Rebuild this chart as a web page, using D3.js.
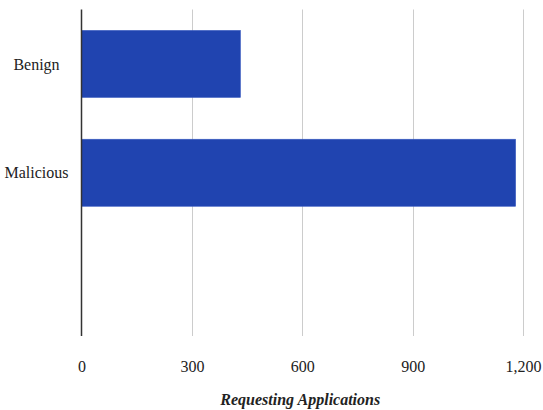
<!DOCTYPE html>
<html><head><meta charset="utf-8">
<script src="https://cdn.jsdelivr.net/npm/d3@7"></script>
<style>body{margin:0;background:#fff}svg{display:block}
svg text{font-family:"Liberation Serif","DejaVu Serif",serif;}</style>
</head><body>
<svg id="c" width="543" height="410"></svg>
<script>
const categories = ["Benign", "Malicious"];
const values = [432, 1180];
const xTicks = [0, 300, 600, 900, 1200];
const xTitle = "Requesting Applications";

(function () {
const svg = d3.select("#c");
const FONT = '"Liberation Serif", "DejaVu Serif", serif';
const mLeft = 81.5, mRight = 523, mTop = 9.5, mBottom = 336;
const x = d3.scaleLinear().domain([0, 1200]).range([mLeft, mRight]);
// three slots: chart leaves an empty row below the two categories
const y = d3.scaleBand().domain(categories.concat(["__empty"])).range([mTop, mBottom]).paddingInner(0.384).paddingOuter(0.192);

// gridlines
svg.append("g").selectAll("line").data(xTicks.filter(d => d !== 0)).join("line")
  .attr("x1", d => Math.round(x(d)) + 0.5).attr("x2", d => Math.round(x(d)) + 0.5)
  .attr("y1", mTop).attr("y2", mBottom)
  .attr("stroke", "#cccccc").attr("stroke-width", 1);

// bars
svg.append("g").selectAll("rect").data(categories).join("rect")
  .attr("x", x(0)).attr("y", d => y(d))
  .attr("width", (d, i) => x(values[i]) - x(0))
  .attr("height", y.bandwidth())
  .attr("fill", "#2044b0").attr("stroke", "#3a5cc0").attr("stroke-width", 0.6);

// baseline
svg.append("line").attr("x1", x(0)).attr("x2", x(0)).attr("y1", mTop).attr("y2", mBottom)
  .attr("stroke", "#333").attr("stroke-width", 1.5);

// x tick labels
const xAxis = d3.axisBottom(x).tickValues(xTicks).tickSize(0).tickFormat(d3.format(","));
const gx = svg.append("g").attr("transform", `translate(0,${mBottom})`).call(xAxis);
gx.attr("font-family", FONT).attr("font-size", 16);
gx.select(".domain").remove();
gx.selectAll("text").attr("dy", null).attr("y", 36).attr("fill", "#222");

// category labels
svg.append("g").attr("font-family", FONT).attr("font-size", 16).selectAll("text").data(categories).join("text")
  .attr("x", 36.5).attr("y", d => y(d) + y.bandwidth() / 2).attr("dy", "0.35em")
  .attr("text-anchor", "middle").attr("fill", "#222")
  .text(d => d);

// axis title
svg.append("text").attr("x", (mLeft + mRight) / 2 - 2).attr("y", 405)
  .attr("text-anchor", "middle")
  .attr("font-family", FONT).attr("font-size", 16)
  .attr("font-style", "italic").attr("font-weight", "bold").attr("fill", "#222")
  .text(xTitle);
})();
</script>
</body></html>
